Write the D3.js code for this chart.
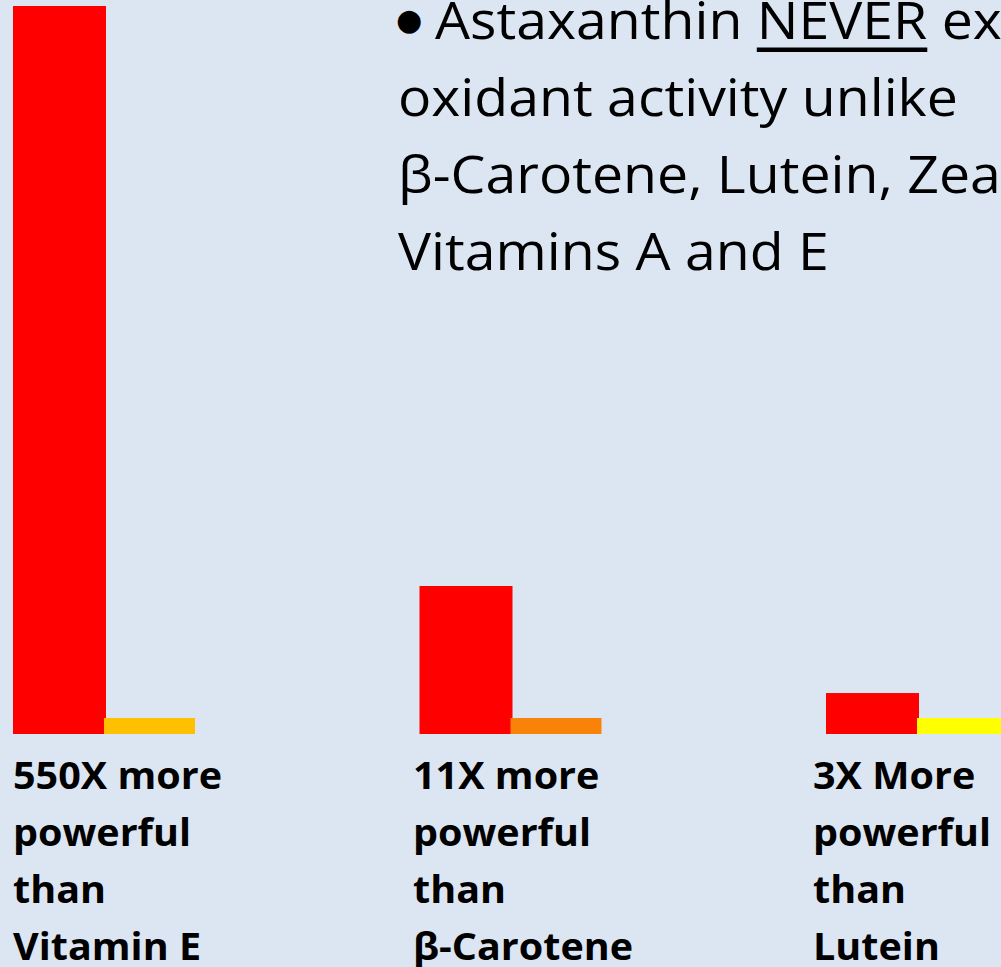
<!DOCTYPE html>
<html>
<head>
<meta charset="utf-8">
<script src="https://cdn.jsdelivr.net/npm/d3@7"></script>
<style>
  html, body { margin: 0; padding: 0; background: #dce6f2; overflow: hidden; }
  svg { display: block; }
</style>
</head>
<body>
<script>
// ---- data ----
const categories = ["Vitamin E", "β-Carotene", "Lutein"];
const series = ["Astaxanthin", "Comparison"];
const astaxanthinValues = [45.5, 9.25, 2.56];
const comparisonValues = [1, 1, 1];
const labelLines = [
  ["550X more", "powerful", "than", "Vitamin E"],
  ["11X more", "powerful", "than", "β-Carotene"],
  ["3X More", "powerful", "than", "Lutein"]
];
const noteBullet = "●";
const noteBefore = "Astaxanthin ";
const noteEmph = "NEVER";
const noteAfter = " exhibits pro-";
const noteLines = ["oxidant activity unlike", "β-Carotene, Lutein, Zeaxanthin,", "Vitamins A and E"];

// ---- styles ----
const W = 1001, H = 967;
const bg = "#dce6f2";
const astaColor = "#ff0000";
const compColors = ["#ffc000", "#f98309", "#ffff00"];
const FONT = "'Open Sans', 'Noto Sans', sans-serif";

const svg = d3.select("body").append("svg").attr("width", W).attr("height", H);
svg.append("rect").attr("width", W).attr("height", H).attr("fill", bg);

// ---- scales ----
const x0 = d3.scaleBand().domain(categories).range([13, 13 + 3 * 406.5]).padding(0);
const x1 = d3.scaleBand().domain(series).range([0, 182]).padding(0);
const y = d3.scaleLinear().domain([0, 45.5]).range([734, 6]);
const xLabel = d3.scaleBand().domain(categories).range([13, 13 + 3 * 400]).padding(0);

const rows = categories.map((c, i) => ({ c, i, a: astaxanthinValues[i], b: comparisonValues[i] }));

// red bars
svg.append("g").selectAll("rect").data(rows).join("rect")
  .attr("x", d => x0(d.c) + x1("Astaxanthin"))
  .attr("width", x1.bandwidth() + 2)
  .attr("y", d => y(d.a))
  .attr("height", d => y(0) - y(d.a))
  .attr("fill", astaColor);

// comparison bars
svg.append("g").selectAll("rect").data(rows).join("rect")
  .attr("x", d => x0(d.c) + x1("Comparison"))
  .attr("width", x1.bandwidth())
  .attr("y", d => y(d.b))
  .attr("height", d => y(0) - y(d.b))
  .attr("fill", (d, i) => compColors[i]);

// ---- bold labels ----
const labG = svg.append("g").attr("font-family", FONT).attr("font-weight", 700)
  .attr("font-size", 38).attr("fill", "#000");
const probe = labG.append("text").text("powerful");
const kB = 178 / probe.node().getComputedTextLength();
probe.remove();
labelLines.forEach((lines, i) => {
  const g = labG.append("g")
    .attr("transform", `translate(${xLabel(categories[i])},0) scale(${kB},1)`);
  lines.forEach((t, j) => {
    g.append("text").attr("x", 0).attr("y", 789 + j * 57).text(t);
  });
});

// ---- note text ----
const noteG = svg.append("g").attr("font-family", FONT).attr("font-size", 52).attr("fill", "#000");
const probe2 = noteG.append("text").text(noteLines[0]);
const kR = 560 / probe2.node().getComputedTextLength();
probe2.remove();

noteG.append("text").attr("x", 396).attr("y", 30)
  .attr("font-family", "'DejaVu Sans', sans-serif").attr("font-size", 30).text(noteBullet);

const l1 = noteG.append("g").attr("transform", `translate(435,0) scale(${kR},1)`);
const t1 = l1.append("text").attr("x", 0).attr("y", 39);
t1.append("tspan").text(noteBefore);
t1.append("tspan").text(noteEmph);
t1.append("tspan").text(noteAfter);
const tn = t1.node();
const startN = tn.getSubStringLength(0, noteBefore.length);
const lenN = tn.getSubStringLength(noteBefore.length, noteEmph.length);
l1.append("rect").attr("x", startN).attr("y", 47.5).attr("width", lenN).attr("height", 4.5).attr("fill", "#000");

const lrest = noteG.append("g").attr("transform", `translate(398,0) scale(${kR},1)`);
noteLines.forEach((t, j) => {
  lrest.append("text").attr("x", 0).attr("y", 116 + j * 77).text(t);
});
</script>
</body>
</html>
